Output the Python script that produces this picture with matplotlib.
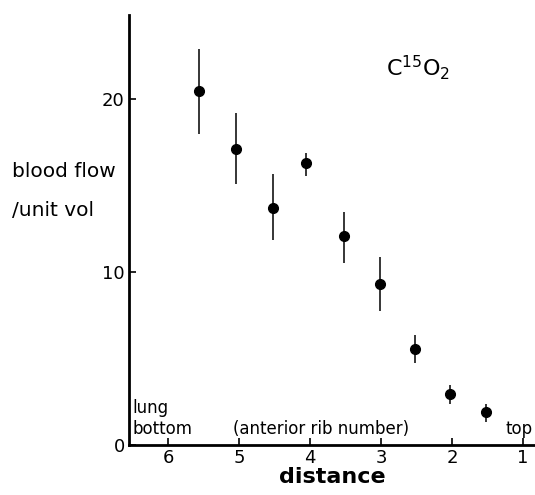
import numpy as np
import matplotlib.pyplot as plt

# anterior rib number (distance up the lung) and blood flow per unit volume
rib = [5.56, 5.04, 4.52, 4.06, 3.52, 3.01, 2.52, 2.03, 1.52]
flow = [20.5, 17.15, 13.7, 16.3, 12.1, 9.3, 5.55, 2.95, 1.9]
err_hi = [22.9, 19.2, 15.7, 16.9, 13.5, 10.9, 6.35, 3.5, 2.4]
err_lo = [18.0, 15.1, 11.85, 15.6, 10.55, 7.75, 4.75, 2.35, 1.35]

xticks = [6, 5, 4, 3, 2, 1]
yticks = [0, 10, 20]

flow = np.array(flow)
yerr = [flow - np.array(err_lo), np.array(err_hi) - flow]

fig = plt.figure(figsize=(5.35, 4.95), dpi=100)
ax = fig.add_axes([0.241, 0.101, 0.759, 0.869])

ax.errorbar(rib, flow, yerr=yerr, fmt='o', color='black', ms=7,
            elinewidth=1.1, capsize=0)

ax.set_xlim(6.55, 0.83)
ax.set_ylim(0, 24.9)
ax.set_xticks(xticks)
ax.set_xticklabels(['6', '5', '4', '3', '2', '1'])
ax.set_yticks(yticks)

for s in ['top', 'right']:
    ax.spines[s].set_visible(False)
ax.spines['left'].set_linewidth(2)
ax.spines['bottom'].set_linewidth(2)
ax.tick_params(axis='both', direction='in', length=5, width=1.2,
               labelsize=13, pad=3)

ax.set_xlabel('distance', fontsize=16, fontweight='bold', labelpad=0)

fig.text(0.022, 0.614, 'blood flow\n/unit vol', fontsize=14.5,
         ha='left', va='center', linespacing=2.3)

ax.text(6.5, 0.4, 'lung\nbottom', fontsize=12, ha='left', va='bottom',
        linespacing=1.25)
ax.text(3.85, 0.4, '(anterior rib number)', fontsize=12, ha='center',
        va='bottom')
ax.text(0.86, 0.4, 'top', fontsize=12, ha='right', va='bottom')

ax.text(2.93, 21.0, 'C$^{15}$O$_2$', fontsize=16, ha='left', va='bottom')

fig.savefig('out.png', dpi=100)
